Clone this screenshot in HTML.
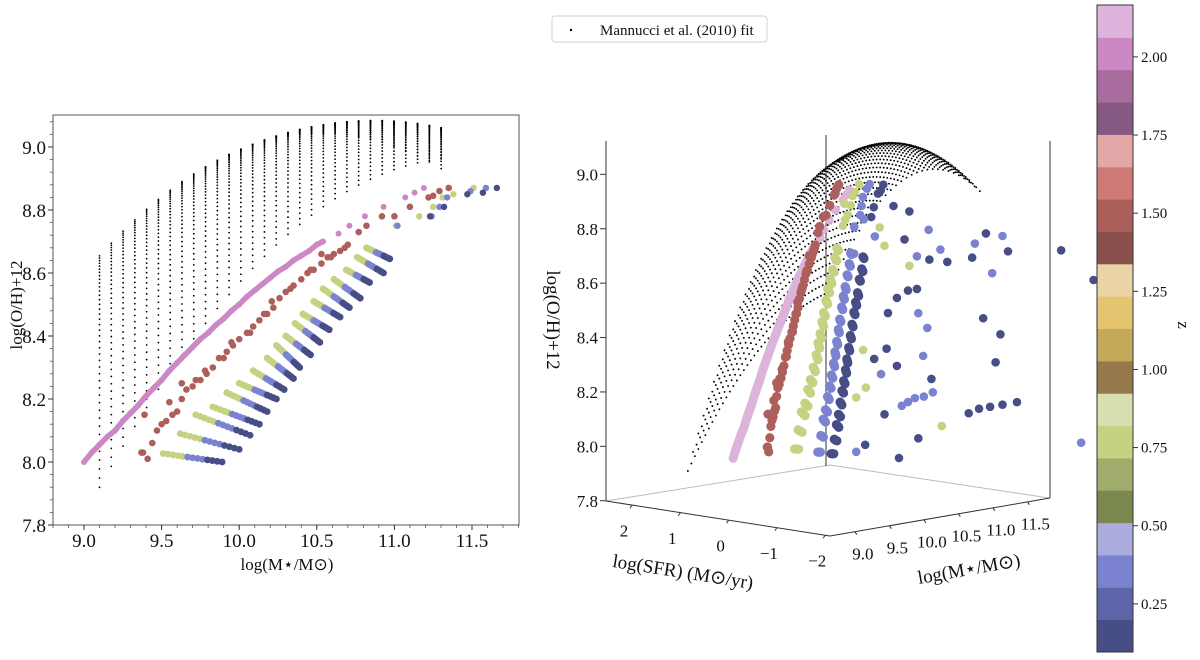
<!DOCTYPE html>
<html><head><meta charset="utf-8">
<style>
html,body{margin:0;padding:0;background:#fff;}
svg{display:block;font-family:"Liberation Serif",serif;}
</style></head>
<body>
<svg id="chart" width="1200" height="660" viewBox="0 0 1200 660" xmlns="http://www.w3.org/2000/svg">
  <rect x="0" y="0" width="1200" height="660" fill="#fff"/>
  <g id="left"></g>
  <g id="right"></g>
  <g id="cbar"></g>
  <g>
    <rect x="552" y="16" width="215" height="26" rx="3" fill="#fff" stroke="#d0d0d0"/>
    <circle cx="571" cy="30" r="1.2" fill="#000"/>
    <text x="600" y="35" font-size="15" fill="#111">Mannucci et al. (2010) fit</text>
  </g>
</svg>
<script>
// ---------- data ----------
const fmrCoef = [8.90, 0.37, -0.14, -0.19, 0.12, -0.054];
const gridMassStart = 9.1, gridMassStep = 0.0759, gridMassCount = 30;
const gridSfrStart = -1.4, gridSfrStep = 0.0725, gridSfrCount = 41;

const pinkM  = [9.00,9.05,9.10,9.15,9.20,9.25,9.30,9.35,9.40,9.45,9.50,9.55,9.60,9.65,9.70,9.75,9.80,9.85,9.90,9.95,10.00,10.05,10.10,10.15,10.20,10.25,10.30,10.35,10.40,10.45,10.50,10.54];
const pinkOH = [8.00,8.03,8.055,8.08,8.10,8.13,8.155,8.18,8.21,8.235,8.26,8.29,8.315,8.34,8.365,8.39,8.41,8.435,8.455,8.48,8.50,8.525,8.545,8.565,8.585,8.605,8.62,8.64,8.655,8.67,8.69,8.70];
const pinkSparseM  = [10.64,10.71,10.81,10.93,11.07,11.13,11.19];
const pinkSparseOH = [8.725,8.75,8.78,8.81,8.84,8.855,8.87];

const redM  = [9.38,9.41,9.44,9.47,9.50,9.53,9.57,9.60,9.63,9.66,9.70,9.75,9.79,9.83,9.87,9.92,9.96,10.00,10.05,10.09,10.13,10.18,10.22,10.26,10.30,10.35,10.40,10.44,10.48,10.53,10.57,10.61,10.65,10.70,9.39,9.37,9.78,9.95,10.21,10.53,10.77,10.82,10.92,11.00,11.10,11.22,11.25,11.29,11.35,9.63,9.55,9.72,9.90,10.07,10.16,10.33,10.46,10.59,10.68];
const redOH = [8.03,8.01,8.06,8.10,8.12,8.13,8.15,8.16,8.20,8.23,8.24,8.26,8.28,8.30,8.33,8.35,8.37,8.39,8.41,8.43,8.45,8.47,8.49,8.52,8.54,8.56,8.58,8.60,8.61,8.63,8.65,8.66,8.67,8.69,8.15,8.03,8.29,8.38,8.51,8.66,8.73,8.75,8.78,8.78,8.81,8.84,8.845,8.86,8.87,8.25,8.19,8.26,8.33,8.41,8.47,8.55,8.61,8.65,8.68];

// diagonal tracks: green (start) -> light blue -> dark blue (end)
const trackStartM  = [9.51,9.62,9.72,9.83,9.92,10.00,10.09,10.18,10.24,10.30,10.36,10.41,10.48,10.54,10.61,10.69,10.76,10.82];
const trackStartOH = [8.027,8.09,8.15,8.175,8.22,8.25,8.29,8.33,8.37,8.40,8.44,8.47,8.51,8.55,8.58,8.61,8.65,8.68];
const trackEndM    = [9.89,10.00,10.07,10.13,10.18,10.24,10.29,10.35,10.39,10.46,10.52,10.58,10.65,10.71,10.78,10.84,10.93,10.97];
const trackEndOH   = [8.00,8.04,8.085,8.12,8.16,8.20,8.23,8.265,8.30,8.34,8.38,8.42,8.46,8.49,8.52,8.57,8.60,8.645];

const greenSparseM  = [11.25,11.01,11.16,11.31,11.38,11.51];
const greenSparseOH = [8.81,8.75,8.78,8.84,8.85,8.87];
const lightSparseM  = [11.02,11.24,11.29,11.34,11.49,11.59];
const lightSparseOH = [8.75,8.78,8.81,8.84,8.86,8.87];
const darkSparseM   = [11.23,11.32,11.47,11.57,11.66];
const darkSparseOH  = [8.78,8.81,8.85,8.855,8.87];

// 3D: SFR relation per series (sfr = sfrAt9 + slope*(m-9))
const seriesNames = ['pink','red','green','light','dark'];
const sfrAt9   = [0.42,-0.01,-0.51,-0.96,-1.15];
const sfrSlope = [0.33,0.68,0.76,0.87,0.85];
const outlierSfr = -1.2;
const dark3dM  = [10.27,10.55,11.28,11.43,11.59,11.77,11.98,11.67,11.74,11.49,11.85,11.53,11.33,10.97,10.71,10.42,10.19,10.35,10.53,10.40,10.24,10.11,10.09,10.74,10.24,9.91,10.06,9.78,12.62,13.09];
const dark3dOH = [7.99,8.05,8.11,8.12,8.12,8.12,8.12,8.28,8.38,8.45,8.68,8.76,8.68,8.68,8.70,8.89,8.92,8.79,8.60,8.60,8.58,8.53,8.40,8.26,8.33,8.37,8.16,8.06,8.65,8.52];
const light3dM  = [12.91,11.77,11.37,11.62,10.87,10.70,10.53,10.55,10.68,10.62,10.76,10.63,10.50,10.40,10.31,10.01,9.65,9.92,9.76,9.62,9.62];
const light3dOH = [7.93,8.74,8.73,8.61,8.73,8.81,8.72,8.51,8.45,8.35,8.21,8.20,8.20,8.19,8.18,8.31,8.04,8.82,8.89,8.87,8.77];
const green3dM  = [10.89,10.42,9.79,9.65,10.06,9.99,9.48,9.49,9.75];
const green3dOH = [8.08,8.69,8.27,8.24,8.78,8.85,8.96,8.90,8.41];

const cbarColors = ['#474d85','#5d65a8','#7b83d0','#a9acdc','#7a8850','#9fac6b','#c4d282','#dadfb2','#96794a','#c4a95a','#e5c470','#e9d3a7','#8c504c','#ad5f5b','#d07a78','#e3a7a8','#865983','#a96c9f','#cb88c4','#dfb4dc'];
const cbarTicks = [0.25,0.50,0.75,1.00,1.25,1.50,1.75,2.00];
const cbarMin = 0.096, cbarMax = 2.166;

const xTicksL = [9.0,9.5,10.0,10.5,11.0,11.5];
const yTicksL = [7.8,8.0,8.2,8.4,8.6,8.8,9.0];
const ohTicks3d = [7.8,8.0,8.2,8.4,8.6,8.8,9.0];
const sfrTicks3d = [2,1,0,-1,-2];
const massTicks3d = [9.0,9.5,10.0,10.5,11.0,11.5];

const colPink='#cc88c4', colPink3='#dcb4da', colRed='#ad5f5b', colGreen='#c4d282', colLight='#7b83d0', colDark='#474d85';

// ---------- helpers ----------
const NS='http://www.w3.org/2000/svg';
function mk(tag, attrs, parent){const e=document.createElementNS(NS,tag);for(const k in attrs)e.setAttribute(k,attrs[k]);parent.appendChild(e);return e;}
function fmr(m,s){const x=m-10;return fmrCoef[0]+fmrCoef[1]*x+fmrCoef[2]*s+fmrCoef[3]*x*x+fmrCoef[4]*x*s+fmrCoef[5]*s*s;}

// ---------- left panel ----------
const L=document.getElementById('left');
const lx=m=>84+(m-9)*155.2;
const ly=v=>525-(v-7.8)*315;
let e;
e=mk('rect',{x:53,y:115,width:466,height:410,fill:'none',stroke:'#555','stroke-width':1},L);


for(let v=8.7;v<=11.81;v+=0.1){e=mk('line',{x1:lx(v),x2:lx(v),y1:525,y2:528,stroke:'#555','stroke-width':0.8},L);

}
for(let v=7.8;v<=9.11;v+=0.04){e=mk('line',{x1:50,x2:53,y1:ly(v),y2:ly(v),stroke:'#555','stroke-width':0.8},L);

}
xTicksL.forEach(t=>{e=mk('line',{x1:lx(t),x2:lx(t),y1:525,y2:530,stroke:'#333'},L);


e=mk('text',{x:lx(t),y:547,'font-size':19,'text-anchor':'middle',fill:'#111'},L);e.textContent=t.toFixed(1);

});
yTicksL.forEach(t=>{e=mk('line',{x1:48,x2:53,y1:ly(t),y2:ly(t),stroke:'#333'},L);


e=mk('text',{x:46,y:ly(t)+7,'font-size':19,'text-anchor':'end',fill:'#111'},L);e.textContent=t.toFixed(1);

});
e=mk('text',{x:287,y:570,'font-size':17,'text-anchor':'middle',fill:'#111'},L);e.textContent='log(M⋆/M⊙)';


e=mk('text',{x:0,y:0,'font-size':17,'text-anchor':'middle',fill:'#111',transform:'translate(22,305) rotate(-90)'},L);e.textContent='log(O/H)+12';



// black fit grid
for(let i=0;i<gridMassCount;i++){const m=gridMassStart+i*gridMassStep;
 for(let j=0;j<gridSfrCount;j++){const s=gridSfrStart+j*gridSfrStep;
  e=mk('circle',{cx:lx(m),cy:ly(fmr(m,s)),r:0.9,fill:'#000'},L);
  
  }}

function dotL(m,oh,c,r,name){e=mk('circle',{cx:lx(m),cy:ly(oh),r:r,fill:c},L);
 
 }
// pink
e=mk('polyline',{points:pinkM.map((m,i)=>lx(m)+','+ly(pinkOH[i])).join(' '),fill:'none',stroke:colPink,'stroke-width':5.5,'stroke-linecap':'round'},L);


pinkM.forEach((m,i)=>dotL(m,pinkOH[i],colPink,3,'pink-point'));
pinkSparseM.forEach((m,i)=>dotL(m,pinkSparseOH[i],colPink,3,'pink-point'));
// red
redM.forEach((m,i)=>dotL(m,redOH[i],colRed,3.3,'red-point'));
// tracks
const NT=13;
function grp(i){return i<5?0:(i<9?1:2);}
trackStartM.forEach((m0,k)=>{for(let i=0;i<NT;i++){const t=i/(NT-1);
 const m=m0+(trackEndM[k]-m0)*t, oh=trackStartOH[k]+(trackEndOH[k]-trackStartOH[k])*t;
 const g=grp(i);
 dotL(m,oh,[colGreen,colLight,colDark][g],3.4,['green-point','lightblue-point','darkblue-point'][g]);}});
greenSparseM.forEach((m,i)=>dotL(m,greenSparseOH[i],colGreen,3.2,'green-point'));
lightSparseM.forEach((m,i)=>dotL(m,lightSparseOH[i],colLight,3.2,'lightblue-point'));
darkSparseM.forEach((m,i)=>dotL(m,darkSparseOH[i],colDark,3.2,'darkblue-point'));

// ---------- right 3D panel ----------
const R=document.getElementById('right');
const px=(m,s,oh)=>830-48.3*(s+2.1)+69*(m-8.64);
const py=(m,s,oh)=>536-7.5*(s+2.1)-12*(m-8.64)-272*(oh-7.8);
function ln(x1,y1,x2,y2,c,w,name){e=mk('line',{x1:x1,y1:y1,x2:x2,y2:y2,stroke:c,'stroke-width':w},R);
 
 }
ln(606,501,830,465,'#bbb',1,'back-floor-edge-left');
ln(830,465,1049,498,'#bbb',1,'back-floor-edge-right');
ln(606,141,606,501,'#333',1,'pane-edge-left');
ln(826,135,826,466,'#333',1,'pane-edge-center');
ln(1050,141,1050,498,'#333',1,'pane-edge-right');
ln(606,501,830,536,'#333',1,'sfr-axis-line');
ln(830,536,1050,498,'#333',1,'mass-axis-line');
ohTicks3d.forEach(t=>{const y=py(8.64,2.6,t);
 ln(600,y,606,y,'#333',1,'oh-tick');
 e=mk('text',{x:598,y:y+6,'font-size':17,'text-anchor':'end',fill:'#111'},R);e.textContent=t.toFixed(1);
 
 });
sfrTicks3d.forEach(t=>{const x=px(8.64,t,7.8),y=py(8.64,t,7.8);
 ln(x,y,x-2,y+3,'#333',1,'sfr-tick');
 e=mk('text',{x:x-8,y:y+31,'font-size':17,'text-anchor':'middle',fill:'#111'},R);e.textContent=t<0?'−'+(-t):String(t);
 
 });
massTicks3d.forEach(t=>{const x=px(t,-2.1,7.8),y=py(t,-2.1,7.8);
 ln(x,y,x+2,y+3,'#333',1,'mass-tick');
 e=mk('text',{x:x+8,y:y+28,'font-size':17,'text-anchor':'middle',fill:'#111'},R);e.textContent=t.toFixed(1);
 
 });
e=mk('text',{x:0,y:0,'font-size':19,'text-anchor':'middle',fill:'#111',transform:'translate(682,578) rotate(9)'},R);e.textContent='log(SFR) (M⊙/yr)';


e=mk('text',{x:0,y:0,'font-size':19,'text-anchor':'middle',fill:'#111',transform:'translate(970,575) rotate(-10)'},R);e.textContent='log(M⋆/M⊙)';


e=mk('text',{x:0,y:0,'font-size':19,'text-anchor':'middle',fill:'#111',transform:'translate(547,320) rotate(90)'},R);e.textContent='log(O/H)+12';



// fit surface
for(let i=0;i<gridMassCount;i++){const m=gridMassStart+i*gridMassStep;
 for(let j=0;j<gridSfrCount;j++){const s=gridSfrStart+j*gridSfrStep;const oh=fmr(m,s);
  e=mk('circle',{cx:px(m,s,oh),cy:py(m,s,oh),r:0.95,fill:'#000'},R);
  
  }}

function sfrOf(idx,m){return sfrAt9[idx]+sfrSlope[idx]*(m-9);}
function dotR(m,s,oh,c,r,name){e=mk('circle',{cx:px(m,s,oh),cy:py(m,s,oh),r:r,fill:c},R);
 
 }
// pink band
e=mk('polyline',{points:pinkM.map((m,i)=>{const s=sfrOf(0,m);return px(m,s,pinkOH[i])+','+py(m,s,pinkOH[i]);}).join(' '),fill:'none',stroke:colPink3,'stroke-width':9,'stroke-linecap':'round'},R);


pinkSparseM.forEach((m,i)=>dotR(m,sfrOf(0,m),pinkSparseOH[i],colPink3,4.5,'pink-3d-point'));
redM.forEach((m,i)=>dotR(m,sfrOf(1,m),redOH[i],colRed,4.6,'red-3d-point'));
const trackCols=[colGreen,colLight,colDark];
trackStartM.forEach((m0,k)=>{for(let i=0;i<NT;i++){const t=i/(NT-1);
 const m=m0+(trackEndM[k]-m0)*t, oh=trackStartOH[k]+(trackEndOH[k]-trackStartOH[k])*t;
 const g=grp(i);
 dotR(m,sfrOf(2+g,m),oh,trackCols[g],4.6,['green-3d-point','lightblue-3d-point','darkblue-3d-point'][g]);}});
greenSparseM.forEach((m,i)=>dotR(m,sfrOf(2,m),greenSparseOH[i],colGreen,4.3,'green-3d-point'));
lightSparseM.forEach((m,i)=>dotR(m,sfrOf(3,m),lightSparseOH[i],colLight,4.3,'lightblue-3d-point'));
darkSparseM.forEach((m,i)=>dotR(m,sfrOf(4,m),darkSparseOH[i],colDark,4.3,'darkblue-3d-point'));
green3dM.forEach((m,i)=>dotR(m,outlierSfr,green3dOH[i],colGreen,4.3,'green-3d-outlier'));
light3dM.forEach((m,i)=>dotR(m,outlierSfr,light3dOH[i],colLight,4.3,'lightblue-3d-outlier'));
dark3dM.forEach((m,i)=>dotR(m,outlierSfr,dark3dOH[i],colDark,4.3,'darkblue-3d-outlier'));

// ---------- colorbar ----------
const C=document.getElementById('cbar');
const cy=z=>652-(z-cbarMin)/(cbarMax-cbarMin)*647;
const segH=647/cbarColors.length;
cbarColors.forEach((c,i)=>{e=mk('rect',{x:1097,y:652-(i+1)*segH,width:36,height:segH+0.5,fill:c},C);
 
 });
e=mk('rect',{x:1097,y:5,width:36,height:647,fill:'none',stroke:'#333','stroke-width':1},C);


cbarTicks.forEach(t=>{const y=cy(t);
 e=mk('line',{x1:1133,x2:1138,y1:y,y2:y,stroke:'#333'},C);
 
 
 e=mk('text',{x:1141,y:y+5,'font-size':15,fill:'#111'},C);e.textContent=t.toFixed(2);
 
 });
e=mk('text',{x:0,y:0,'font-size':17,'text-anchor':'middle',fill:'#111',transform:'translate(1178,325) rotate(90)'},C);e.textContent='z';


</script>
</body></html>
